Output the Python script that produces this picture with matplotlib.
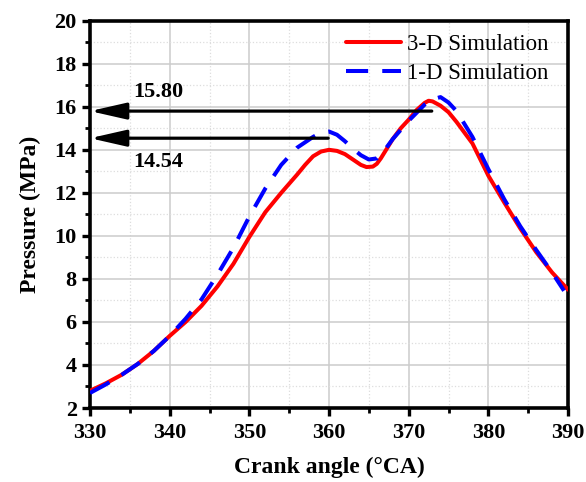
import matplotlib.pyplot as plt
import numpy as np
from matplotlib.ticker import MultipleLocator

# 3-D simulation (red)
ca_3d = [330, 332, 334, 336, 338, 340, 342, 344, 346, 348, 350, 352, 354, 356, 357, 358,
         359, 360, 361, 362, 363, 364, 364.7, 365.5, 366, 366.5, 367, 368, 369, 370, 371, 372, 372.5, 373,
         374, 375, 376, 377, 378, 380, 382, 384, 386, 388, 390]
p_3d = [2.8, 3.15, 3.55, 4.05, 4.65, 5.35, 6.0, 6.75, 7.65, 8.7, 9.95, 11.1, 12.0, 12.85, 13.3, 13.7,
        13.92, 14.0, 13.95, 13.8, 13.55, 13.3, 13.2, 13.22, 13.35, 13.6, 13.9, 14.5, 15.0, 15.4, 15.85, 16.18, 16.28, 16.25,
        16.05, 15.75, 15.3, 14.8, 14.3, 12.8, 11.55, 10.35, 9.25, 8.3, 7.5]

# 1-D simulation (blue)
ca_1d = [330, 332, 334, 336, 338, 340, 342, 344, 346, 348, 350, 352, 354, 356, 358,
         359, 360, 361, 362, 363, 364, 365, 366, 367, 368, 370, 372, 373, 374, 375,
         376, 378, 380, 382, 384, 386, 388, 389.5]
p_1d = [2.7, 3.1, 3.55, 4.05, 4.65, 5.35, 6.15, 7.05, 8.2, 9.45, 10.9, 12.2, 13.3, 14.1, 14.6,
        14.8, 14.85, 14.7, 14.4, 14.05, 13.75, 13.55, 13.6, 14.0, 14.5, 15.35, 16.1, 16.35, 16.45, 16.2,
        15.8, 14.6, 13.1, 11.7, 10.45, 9.35, 8.3, 7.45]

# peak marks: (value, end of arrow tail)
peak_vals = [15.80, 14.54]
peak_ends = [372.9, 359.9]
peak_text = ['15.80', '14.54']

plt.rcParams['font.family'] = ['Liberation Serif', 'DejaVu Serif']

fig = plt.figure(figsize=(5.86, 4.82), dpi=100)
ax = fig.add_axes([0.1536, 0.1535, 0.8157, 0.8035])

ax.plot(ca_3d, p_3d, color='red', lw=2.9, label='3-D Simulation', zorder=3,
        solid_joinstyle='round', solid_capstyle='round')
ax.plot(ca_1d, p_1d, color='blue', lw=2.9, dashes=(5.5, 3.5), label='1-D Simulation', zorder=4,
        dash_joinstyle='round')

for v, e, t, dy in zip(peak_vals, peak_ends, peak_text, [0.88, -1.1]):
    ax.annotate('', xy=(330, v), xytext=(e, v),
                arrowprops=dict(arrowstyle='-|>,head_length=1.1,head_width=0.25',
                                color='black', lw=2.3, shrinkA=0, shrinkB=0,
                                mutation_scale=20), zorder=5)
    ax.text(338.6, v + dy, t, fontsize=16, fontweight='bold', ha='center', va='center')

ax.set_xlim(330, 390)
ax.set_ylim(2, 20)
ax.xaxis.set_major_locator(MultipleLocator(10))
ax.xaxis.set_minor_locator(MultipleLocator(5))
ax.yaxis.set_major_locator(MultipleLocator(2))
ax.yaxis.set_minor_locator(MultipleLocator(1))

ax.grid(which='major', color='#cccccc', lw=1.1)
ax.grid(which='minor', color='#dddddd', lw=0.9, ls=':')
ax.set_axisbelow(True)

for s in ax.spines.values():
    s.set_linewidth(2.6)
ax.tick_params(which='major', direction='out', length=6, width=2.4, labelsize=16)
ax.tick_params(which='minor', direction='out', length=3.5, width=2)
ax.tick_params(axis='x', pad=5)
for lab in ax.get_xticklabels() + ax.get_yticklabels():
    lab.set_fontweight('bold')

ax.set_xlabel('Crank angle (°CA)', fontsize=17, fontweight='bold', labelpad=10)
ax.set_ylabel('Pressure (MPa)', fontsize=17, fontweight='bold', labelpad=10)

ax.legend(loc='upper right', bbox_to_anchor=(0.978, 0.99), frameon=False, fontsize=16.5,
          handlelength=2.4, labelspacing=0.35, borderaxespad=0, handletextpad=0.25)

fig.savefig('out.png', dpi=100)
